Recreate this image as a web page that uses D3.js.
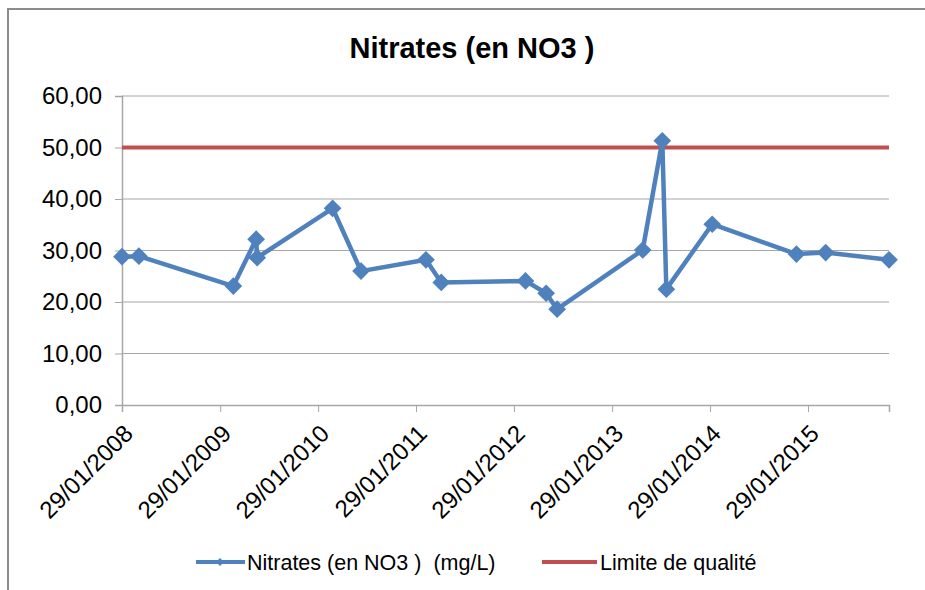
<!DOCTYPE html>
<html>
<head>
<meta charset="utf-8">
<script src="https://cdn.jsdelivr.net/npm/d3@7"></script>
<style>
body { margin: 0; background: #fff; }
text { font-family: "Liberation Sans", Arial, sans-serif; fill: #000; }
</style>
</head>
<body>
<div id="figure"></div>
<script>
// sample dates and measured values (mg/L)
var dates = ["2008-01-29","2008-04-01","2009-03-19","2009-06-12","2009-06-16","2010-03-24",
  "2010-07-08","2011-03-07","2011-05-03","2012-03-12","2012-05-28","2012-07-08",
  "2013-05-23","2013-08-04","2013-08-19","2014-02-06","2014-12-17","2015-04-05","2015-11-27"];
var nitrates = [28.8, 28.9, 23.1, 32.2, 28.6, 38.2, 26.0, 28.2, 23.8, 24.1, 21.7, 18.6,
  30.1, 51.3, 22.5, 35.1, 29.3, 29.6, 28.2];
var limite = 50;
var yTicks = [0, 10, 20, 30, 40, 50, 60];
var xTickYears = [2008, 2009, 2010, 2011, 2012, 2013, 2014, 2015];

var W = 925, H = 590;
var plotL = 122, plotR = 889, plotT = 96, plotB = 405;
var blue = "#4f81bd", red = "#c0504d", grid = "#a6a6a6";

var parse = d3.timeParse("%Y-%m-%d");
var pts = dates.map(function(d,i) { return {date: parse(d), v: nitrates[i]}; });

var svg = d3.select("#figure").append("svg").attr("width", W).attr("height", H);

// chart frame
svg.append("rect").attr("x", 8).attr("y", 9).attr("width", W + 10).attr("height", H + 10)
  .attr("fill", "none").attr("stroke", "#8c8c8c").attr("stroke-width", 2);

var x = d3.scaleTime()
  .domain([pts[0].date, pts[pts.length-1].date])
  .range([plotL, plotR]);
var y = d3.scaleLinear().domain([0, 60]).range([plotB, plotT]);

// title
svg.append("text").attr("x", 472).attr("y", 58).attr("text-anchor", "middle")
  .attr("font-size", "29px").attr("font-weight", "bold")
  .text("Nitrates (en NO3 )");

// gridlines
svg.selectAll("line.grid").data(yTicks.filter(function(d){return d>0;}))
  .enter().append("line").attr("class","grid")
  .attr("x1", plotL).attr("x2", plotR)
  .attr("y1", function(d){return y(d);}).attr("y2", function(d){return y(d);})
  .attr("stroke", grid).attr("stroke-width", 1);

// y axis
var yAxis = svg.append("g").attr("transform", "translate(" + plotL + ",0)")
  .call(d3.axisLeft(y).tickValues(yTicks).tickSize(7).tickPadding(13)
    .tickFormat(function(d){ return d3.format(".2f")(d).replace(".", ","); }));
yAxis.select(".domain").attr("stroke", grid).attr("stroke-width", 1.5);
yAxis.selectAll(".tick line").attr("stroke", grid);
yAxis.selectAll("text").attr("font-size", "24px").attr("font-family", "Liberation Sans, Arial, sans-serif")
  .attr("fill", "#000");

// x axis
var xTicks = xTickYears.map(function(yr){ return parse(yr + "-01-29"); });
var xAxis = svg.append("g").attr("transform", "translate(0," + plotB + ")")
  .call(d3.axisBottom(x).tickValues(xTicks).tickSize(7)
    .tickFormat(d3.timeFormat("%d/%m/%Y")));
xAxis.select(".domain").attr("stroke", grid).attr("stroke-width", 1.5);
xAxis.selectAll(".tick line").attr("stroke", grid);
xAxis.selectAll("text").attr("font-size", "24px").attr("font-family", "Liberation Sans, Arial, sans-serif")
  .attr("fill", "#000")
  .attr("text-anchor", "end")
  .attr("y", 0).attr("dy", 0)
  .attr("transform", "translate(12,30) rotate(-45)");

// quality limit line
svg.append("line").attr("x1", plotL).attr("x2", plotR)
  .attr("y1", y(limite)).attr("y2", y(limite))
  .attr("stroke", red).attr("stroke-width", 4);

// nitrate series
var line = d3.line().x(function(d){return x(d.date);}).y(function(d){return y(d.v);});
svg.append("path").datum(pts).attr("d", line)
  .attr("fill", "none").attr("stroke", blue).attr("stroke-width", 4.5)
  .attr("stroke-linejoin", "round");

var diamond = d3.symbol().type(d3.symbolDiamond2).size(200);
svg.selectAll("path.pt").data(pts).enter().append("path").attr("class","pt")
  .attr("d", diamond)
  .attr("transform", function(d){ return "translate(" + x(d.date) + "," + y(d.v) + ")"; })
  .attr("fill", blue);

// legend
var lg = svg.append("g").attr("transform", "translate(0,562)");
lg.append("line").attr("x1", 196).attr("x2", 245).attr("stroke", blue).attr("stroke-width", 4);
lg.append("path").attr("d", d3.symbol().type(d3.symbolDiamond2).size(40))
  .attr("transform", "translate(220,0)").attr("fill", blue);
lg.append("text").attr("x", 247).attr("y", 8).attr("font-size", "21.5px")
  .text("Nitrates (en NO3 )  (mg/L)").style("white-space", "pre");
lg.append("line").attr("x1", 542).attr("x2", 597).attr("stroke", red).attr("stroke-width", 4);
lg.append("text").attr("x", 600).attr("y", 8).attr("font-size", "21.5px")
  .text("Limite de qualité");
</script>
</body>
</html>
